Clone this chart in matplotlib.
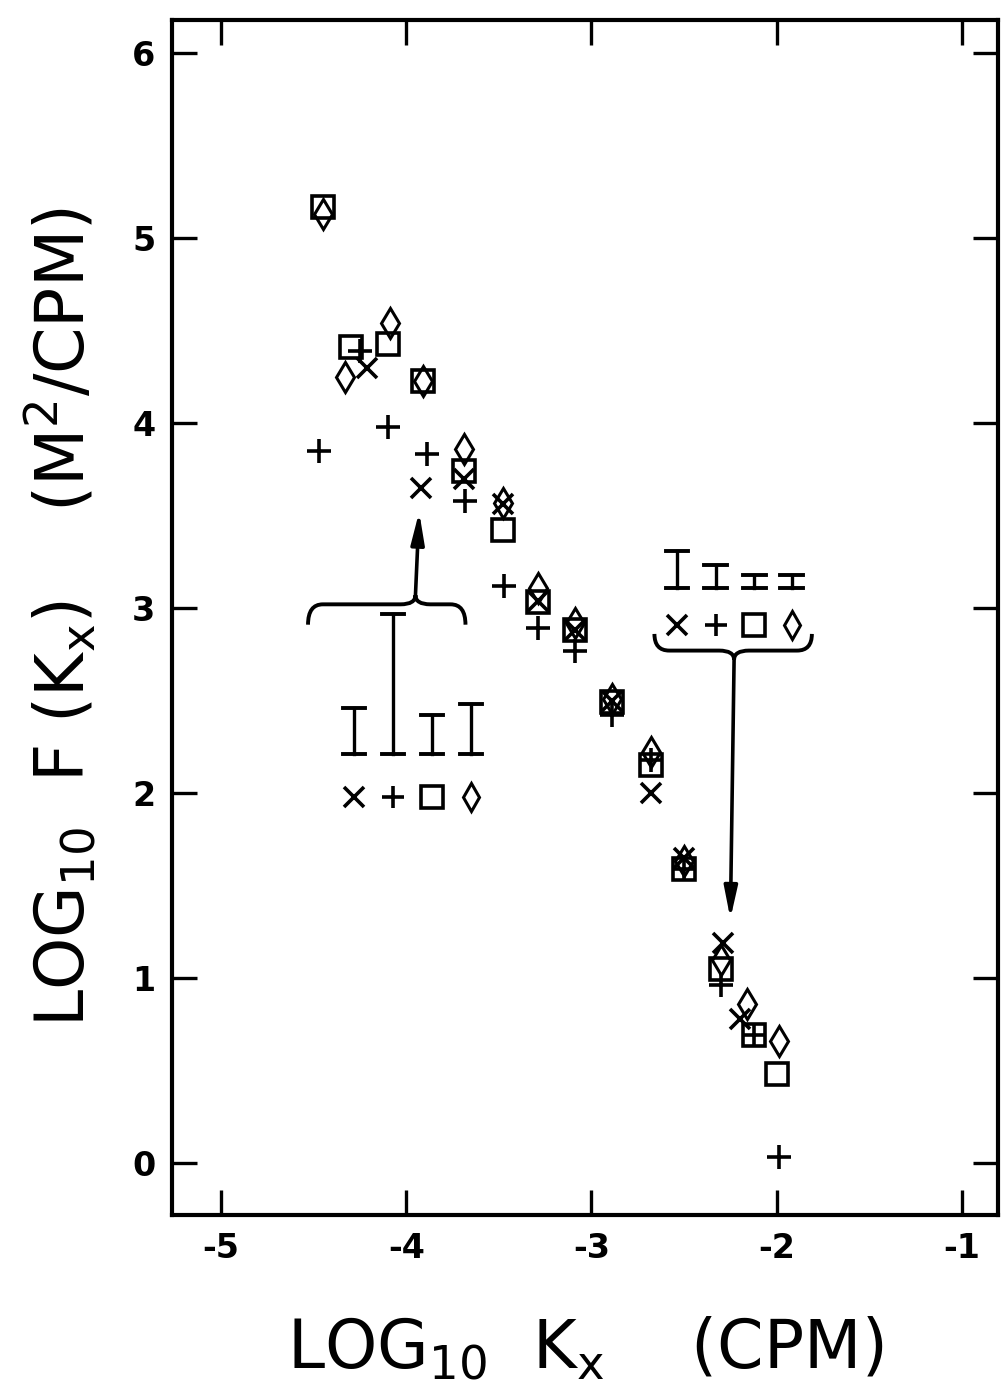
import numpy as np
import matplotlib as mpl
mpl.use("Agg")
import matplotlib.pyplot as plt
from matplotlib.path import Path
from matplotlib.patches import PathPatch

mpl.rcParams.update({
    "font.family": ["DejaVu Sans"],
    "mathtext.default": "regular",
    "axes.linewidth": 3.0,
    "axes.unicode_minus": False,
})

# log10 Kx (cpm) and log10 F(Kx) (m^2/cpm), one list per symbol
sq_x = [-4.45, -4.30, -4.10, -3.91, -3.69, -3.48, -3.29, -3.09, -2.89, -2.68, -2.50, -2.30, -2.12, -2.00]
sq_y = [5.17, 4.41, 4.43, 4.23, 3.74, 3.42, 3.03, 2.88, 2.49, 2.15, 1.59, 1.05, 0.69, 0.48]
dm_x = [-4.45, -4.33, -4.09, -3.91, -3.69, -3.48, -3.29, -3.09, -2.89, -2.68, -2.50, -2.30, -2.16, -1.99]
dm_y = [5.13, 4.25, 4.54, 4.23, 3.86, 3.57, 3.11, 2.92, 2.51, 2.22, 1.63, 1.10, 0.86, 0.66]
xx_x = [-4.21, -3.92, -3.69, -3.48, -3.29, -3.09, -2.89, -2.68, -2.50, -2.29, -2.20]
xx_y = [4.30, 3.65, 3.70, 3.56, 3.04, 2.88, 2.50, 2.00, 1.65, 1.19, 0.78]
pl_x = [-4.47, -4.25, -4.10, -3.89, -3.68, -3.47, -3.29, -3.09, -2.89, -2.68, -2.50, -2.30, -2.12, -1.99]
pl_y = [3.85, 4.39, 3.98, 3.83, 3.58, 3.12, 2.89, 2.77, 2.42, 2.18, 1.59, 0.96, 0.69, 0.03]

# error-bar key: top of bar for each symbol (bottom shared)
low_bar_top = [2.46, 2.97, 2.42, 2.48]   # low wavenumber group
high_bar_top = [3.31, 3.23, 3.18, 3.18]  # high wavenumber group
low_bar_bot = 2.21
high_bar_bot = 3.11

xticks = [-5, -4, -3, -2, -1]
yticks = [0, 1, 2, 3, 4, 5, 6]

MS = dict(ls="none", color="black", mfc="none", mec="black")
STY = [("x", 15, 2.6), ("+", 17, 2.6), ("s", 16, 2.6), ("d", 15, 2.2)]
ARROW = dict(arrowstyle="-|>,head_length=1.9,head_width=0.4",
             lw=2.6, color="black", shrinkA=0, shrinkB=0)


def brace(ax, x0, x1, xc, yend, yh, ycusp, r=0.08):
    verts = [(x0, yend), (x0, yh), (x0 + r, yh),
             (xc - r, yh), (xc, yh), (xc, ycusp),
             (xc, yh), (xc + r, yh),
             (x1 - r, yh), (x1, yh), (x1, yend)]
    codes = [Path.MOVETO, Path.CURVE3, Path.CURVE3,
             Path.LINETO, Path.CURVE3, Path.CURVE3,
             Path.CURVE3, Path.CURVE3,
             Path.LINETO, Path.CURVE3, Path.CURVE3]
    ax.add_patch(PathPatch(Path(verts, codes), fill=False, lw=2.8, ec="black"))


def key(ax, xs, tops, bot, ylab, cap=0.06):
    for x, t in zip(xs, tops):
        ax.plot([x, x], [bot, t], color="black", lw=2.4)
        ax.plot([x - cap, x + cap], [t, t], color="black", lw=2.8)
        ax.plot([x - cap, x + cap], [bot, bot], color="black", lw=2.8)
    for x, (m, s, w) in zip(xs, STY):
        ax.plot([x], [ylab], marker=m, ms=s * 0.95, mew=w, **MS)


fig = plt.figure(figsize=(10.02, 13.93), dpi=100)
ax = fig.add_axes([0.1717, 0.1278, 0.824, 0.858])

for (m, s, w), xs, ys in zip(STY, [xx_x, pl_x, sq_x, dm_x], [xx_y, pl_y, sq_y, dm_y]):
    ax.plot(xs, ys, marker=m, ms=s, mew=w, **MS)

# low-K key
key(ax, [-4.28, -4.07, -3.86, -3.65], low_bar_top, low_bar_bot, 1.98)
brace(ax, -4.53, -3.68, -3.95, 2.91, 3.02, 3.07)
ax.annotate("", xy=(-3.93, 3.52), xytext=(-3.95, 3.07), arrowprops=ARROW)

# high-K key
key(ax, [-2.54, -2.33, -2.12, -1.92], high_bar_top, high_bar_bot, 2.91)
brace(ax, -2.66, -1.81, -2.23, 2.86, 2.77, 2.72)
ax.annotate("", xy=(-2.25, 1.32), xytext=(-2.23, 2.72), arrowprops=ARROW)

ax.set_xlim(-5.264, -0.807)
ax.set_ylim(-0.281, 6.18)
ax.set_xticks(xticks)
ax.set_yticks(yticks)
ax.tick_params(direction="in", length=18, width=2.4, labelsize=24,
               top=True, right=True, pad=12)
for lab in ax.get_xticklabels() + ax.get_yticklabels():
    lab.set_fontweight("bold")

ax.set_xlabel("LOG$_{10}$  K$_x$    (CPM)", fontsize=48, labelpad=36)
ax.set_ylabel("LOG$_{10}$  F (K$_x$)    (M$^2$/CPM)", fontsize=48, labelpad=24)

fig.savefig("out.png", dpi=100, facecolor="white")
